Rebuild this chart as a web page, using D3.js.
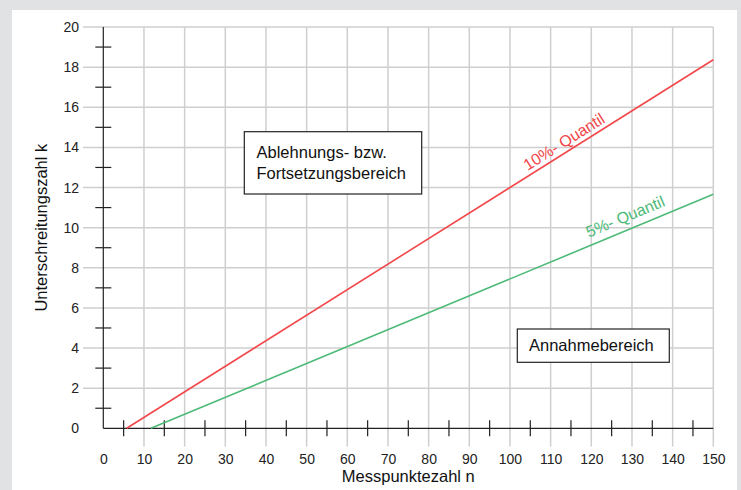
<!DOCTYPE html>
<html>
<head>
<meta charset="utf-8">
<script src="https://cdn.jsdelivr.net/npm/d3@7"></script>
<style>
  body { margin: 0; background: #e1e2e4; }
  svg { display: block; font-family: "Liberation Sans", Arial, sans-serif; }
</style>
</head>
<body>
<div id="chart"></div>
<script>
// tick values
const xTickLabels = [0, 10, 20, 30, 40, 50, 60, 70, 80, 90, 100, 110, 120, 130, 140, 150];
const yTickLabels = [0, 2, 4, 6, 8, 10, 12, 14, 16, 18, 20];
const xMinorTicks = [5, 15, 25, 35, 45, 55, 65, 75, 85, 95, 105, 115, 125, 135, 145];
const yMinorTicks = [1, 3, 5, 7, 9, 11, 13, 15, 17, 19];

// quantile lines (n, k) end points
const quantile10 = [{n: 5.75, k: 0}, {n: 150, k: 18.37}];
const quantile5 = [{n: 11.7, k: 0}, {n: 150, k: 11.66}];

const W = 741, H = 490;
const plot = {left: 103.3, right: 713.3, top: 27, bottom: 428.3};

const svg = d3.select("#chart").append("svg")
    .attr("width", W).attr("height", H);

// white panel
svg.append("rect")
    .attr("x", 12).attr("y", 10)
    .attr("width", 725).attr("height", H - 10)
    .attr("fill", "#fff");

const x = d3.scaleLinear().domain([0, 150]).range([plot.left, plot.right]);
const y = d3.scaleLinear().domain([0, 20]).range([plot.bottom, plot.top]);

// grid
svg.append("g").selectAll("line").data(xTickLabels.slice(1)).join("line")
    .attr("x1", d => x(d)).attr("x2", d => x(d))
    .attr("y1", plot.top).attr("y2", 446.5)
    .attr("stroke", "#cfcfcf").attr("stroke-width", 1.5);

svg.append("g").selectAll("line").data(yTickLabels.slice(1)).join("line")
    .attr("x1", 83).attr("x2", plot.right)
    .attr("y1", d => y(d)).attr("y2", d => y(d))
    .attr("stroke", "#cfcfcf").attr("stroke-width", 1.5);

// tick labels
const xAxis = svg.append("g")
    .attr("transform", `translate(0,${plot.bottom})`)
    .call(d3.axisBottom(x).tickValues(xTickLabels).tickSize(0).tickPadding(25.5));
xAxis.select(".domain").remove();
xAxis.selectAll("text").style("font-size", "14px").attr("fill", "#222")
    .style("font-family", "'Liberation Sans', Arial, sans-serif");

const yAxis = svg.append("g")
    .attr("transform", "translate(83,0)")
    .call(d3.axisLeft(y).tickValues(yTickLabels).tickSize(0).tickPadding(4));
yAxis.select(".domain").remove();
yAxis.selectAll("text").style("font-size", "14px").attr("fill", "#222")
    .style("font-family", "'Liberation Sans', Arial, sans-serif");

// axis lines with crossing minor ticks
const axisColor = "#222";
svg.append("line")
    .attr("x1", plot.left).attr("x2", plot.right).attr("y1", plot.bottom).attr("y2", plot.bottom)
    .attr("stroke", axisColor).attr("stroke-width", 1.2);
svg.append("line")
    .attr("x1", plot.left).attr("x2", plot.left).attr("y1", plot.top).attr("y2", plot.bottom)
    .attr("stroke", axisColor).attr("stroke-width", 1.2);

svg.append("g").selectAll("line").data(xMinorTicks).join("line")
    .attr("x1", d => x(d)).attr("x2", d => x(d))
    .attr("y1", plot.bottom - 8).attr("y2", plot.bottom + 8)
    .attr("stroke", axisColor).attr("stroke-width", 1.2);

svg.append("g").selectAll("line").data(yMinorTicks).join("line")
    .attr("x1", plot.left - 8).attr("x2", plot.left + 8)
    .attr("y1", d => y(d)).attr("y2", d => y(d))
    .attr("stroke", axisColor).attr("stroke-width", 1.2);

// axis titles
svg.append("text")
    .attr("x", (plot.left + plot.right) / 2).attr("y", 481.5)
    .attr("text-anchor", "middle")
    .style("font-size", "16.5px").attr("fill", "#111")
    .text("Messpunktezahl n");

svg.append("text")
    .attr("transform", `translate(46.5,${(plot.top + plot.bottom) / 2}) rotate(-90)`)
    .attr("text-anchor", "middle")
    .style("font-size", "16.5px").attr("fill", "#111")
    .text("Unterschreitungszahl k");

// quantile lines
const line = d3.line().x(d => x(d.n)).y(d => y(d.k));

const drawQuantile = (data, color, label, atN, offset) => {
    svg.append("path")
        .datum(data)
        .attr("d", line)
        .attr("fill", "none")
        .attr("stroke", color)
        .attr("stroke-width", 1.6);

    const [a, b] = data;
    const t = (atN - a.n) / (b.n - a.n);
    const k = a.k + t * (b.k - a.k);
    const angle = Math.atan2(y(b.k) - y(a.k), x(b.n) - x(a.n)) * 180 / Math.PI;
    svg.append("text")
        .attr("transform", `translate(${x(atN)},${y(k)}) rotate(${angle})`)
        .attr("y", -offset)
        .attr("text-anchor", "middle")
        .style("font-size", "16px")
        .attr("fill", color)
        .text(label);
};

drawQuantile(quantile10, "#f2474a", "10%- Quantil", 114.6, 4.5);
drawQuantile(quantile5, "#4dba78", "5%- Quantil", 129.6, 7.8);

// region boxes
const box = (bx, by, bw, bh, lines, tx, ty) => {
    svg.append("rect")
        .attr("x", bx).attr("y", by).attr("width", bw).attr("height", bh)
        .attr("fill", "#fff").attr("stroke", "#222").attr("stroke-width", 1.2);
    lines.forEach((l, i) => {
        svg.append("text")
            .attr("x", tx).attr("y", ty + i * 20.5)
            .style("font-size", "16.5px").attr("fill", "#111")
            .text(l);
    });
};

box(244.3, 131.7, 177.4, 62.3, ["Ablehnungs- bzw.", "Fortsetzungsbereich"], 256.5, 158);
box(517.3, 329, 152, 33.3, ["Annahmebereich"], 529, 350.5);
</script>
</body>
</html>
